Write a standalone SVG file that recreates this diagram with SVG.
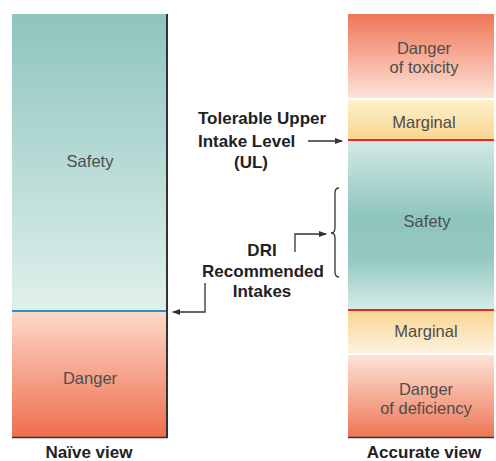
<svg xmlns="http://www.w3.org/2000/svg" width="496" height="461" viewBox="0 0 496 461">
<defs>
<linearGradient id="gSafeL" x1="0" y1="0" x2="0" y2="1"><stop offset="0" stop-color="#8ec4be"/><stop offset="1" stop-color="#e0f0ec"/></linearGradient>
<linearGradient id="gDangerL" x1="0" y1="0" x2="0" y2="1"><stop offset="0" stop-color="#fdd9c8"/><stop offset="1" stop-color="#ee6e4f"/></linearGradient>
<linearGradient id="gTox" x1="0" y1="0" x2="0" y2="1"><stop offset="0" stop-color="#ef7656"/><stop offset="1" stop-color="#fde3d8"/></linearGradient>
<linearGradient id="gMarg1" x1="0" y1="0" x2="0" y2="1"><stop offset="0" stop-color="#fdf1cc"/><stop offset="1" stop-color="#f9d490"/></linearGradient>
<linearGradient id="gSafeR" x1="0" y1="0" x2="0" y2="1"><stop offset="0" stop-color="#d3eae5"/><stop offset="0.45" stop-color="#8fc5bf"/><stop offset="0.7" stop-color="#95c8c2"/><stop offset="1" stop-color="#d6ece8"/></linearGradient>
<linearGradient id="gMarg2" x1="0" y1="0" x2="0" y2="1"><stop offset="0" stop-color="#f9d490"/><stop offset="1" stop-color="#fdf3de"/></linearGradient>
<linearGradient id="gDef" x1="0" y1="0" x2="0" y2="1"><stop offset="0" stop-color="#fde3d8"/><stop offset="1" stop-color="#ef7656"/></linearGradient>
<marker id="ah" markerWidth="8" markerHeight="6" refX="7" refY="3" orient="auto" markerUnits="userSpaceOnUse"><path d="M0,0 L8,3 L0,6 Z" fill="#333"/></marker>
</defs>
<style>
.zone{font-family:"Liberation Sans",Arial,sans-serif;font-size:16.5px;fill:#4d4d4d;text-anchor:middle}
.lbl{font-family:"Liberation Sans",Arial,sans-serif;font-size:17px;font-weight:bold;fill:#222;text-anchor:middle}
.conn{fill:none;stroke:#333;stroke-width:1.3}
</style>
<rect width="496" height="461" fill="#fff"/>
<g id="naive">
<rect x="12" y="14" width="155" height="297" fill="url(#gSafeL)"/>
<rect x="12" y="311" width="155" height="126" fill="url(#gDangerL)"/>
<line x1="12" y1="311" x2="167" y2="311" stroke="#2f8fc7" stroke-width="2"/>
<line x1="167" y1="14" x2="167" y2="438" stroke="#333" stroke-width="2"/>
<line x1="12" y1="437.5" x2="168" y2="437.5" stroke="#333" stroke-width="1.5"/>
<text class="zone" x="90" y="167">Safety</text>
<text class="zone" x="90" y="384">Danger</text>
<text class="lbl" x="89" y="458">Naïve view</text>
</g>
<g id="accurate">
<rect x="348" y="14" width="146" height="84" fill="url(#gTox)"/>
<rect x="348" y="100" width="146" height="40" fill="url(#gMarg1)"/>
<rect x="348" y="140" width="146" height="170" fill="url(#gSafeR)"/>
<rect x="348" y="310" width="146" height="43" fill="url(#gMarg2)"/>
<rect x="348" y="355" width="146" height="82" fill="url(#gDef)"/>
<line x1="348" y1="140" x2="494" y2="140" stroke="#e8262a" stroke-width="2"/>
<line x1="348" y1="310" x2="494" y2="310" stroke="#e8262a" stroke-width="2"/>
<line x1="348" y1="437.5" x2="494" y2="437.5" stroke="#333" stroke-width="1.5"/>
<text class="zone" x="424" y="54">Danger</text>
<text class="zone" x="424" y="73">of toxicity</text>
<text class="zone" x="424" y="128">Marginal</text>
<text class="zone" x="427" y="227">Safety</text>
<text class="zone" x="426" y="337">Marginal</text>
<text class="zone" x="426" y="395">Danger</text>
<text class="zone" x="426" y="414">of deficiency</text>
<text class="lbl" x="424" y="458">Accurate view</text>
</g>
<g id="ul-label">
<text class="lbl" x="198" y="124" text-anchor="start" style="text-anchor:start">Tolerable Upper</text>
<text class="lbl" x="198" y="147" style="text-anchor:start">Intake Level</text>
<text class="lbl" x="251" y="168">(UL)</text>
</g>
<g id="dri-label">
<text class="lbl" x="262" y="256">DRI</text>
<text class="lbl" x="263" y="277">Recommended</text>
<text class="lbl" x="262" y="297">Intakes</text>
</g>
<g id="connectors">
<line class="conn" x1="308" y1="141" x2="342" y2="141" marker-end="url(#ah)"/>
<path class="conn" d="M295,252 V234 H326" marker-end="url(#ah)"/>
<path class="conn" d="M205,283 V312 H173" marker-end="url(#ah)"/>
<path class="conn" d="M339,188 Q335,188 335,193 V228 Q335,233 331,233 Q335,233 335,238 V272 Q335,277 339,277"/>
</g>
</svg>
